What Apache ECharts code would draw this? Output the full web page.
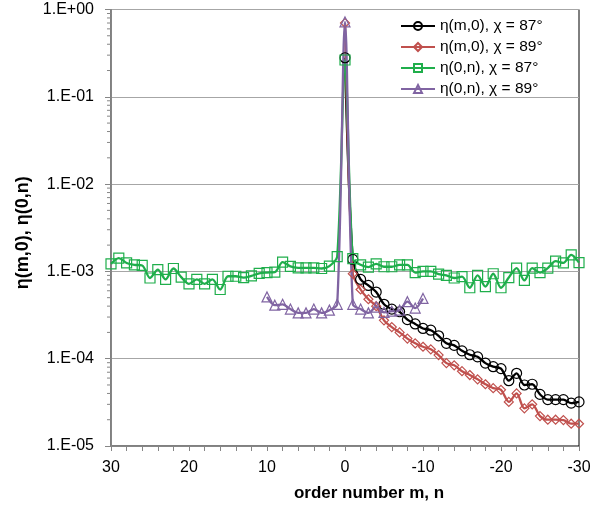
<!DOCTYPE html>
<html><head><meta charset="utf-8">
<script src="https://cdn.jsdelivr.net/npm/echarts@6/dist/echarts.min.js"></script>
<style>html,body{margin:0;padding:0;background:#fff}#c{width:611px;height:509px}</style>
</head><body><div id="c"></div>
<script>
// ---- data ----
const orders_m = [0,-1,-2,-3,-4,-5,-6,-7,-8,-9,-10,-11,-12,-13,-14,-15,-16,-17,-18,-19,-20,-21,-22,-23,-24,-25,-26,-27,-28,-29,-30];
const eta_m0_87 = [0.28,1.37e-3,8.1e-4,6.9e-4,5.8e-4,4.2e-4,3.7e-4,3.45e-4,2.8e-4,2.5e-4,2.22e-4,2.12e-4,1.83e-4,1.5e-4,1.42e-4,1.23e-4,1.11e-4,1.05e-4,8.9e-5,8.1e-5,7.7e-5,5.6e-5,6.8e-5,5.0e-5,5.1e-5,3.9e-5,3.4e-5,3.4e-5,3.4e-5,3.1e-5,3.2e-5];
const eta_m0_89 = [0.70,9.4e-4,6.2e-4,4.8e-4,4.0e-4,2.75e-4,2.3e-4,2.0e-4,1.7e-4,1.5e-4,1.37e-4,1.28e-4,1.1e-4,8.9e-5,8.4e-5,7.2e-5,6.5e-5,5.8e-5,5.1e-5,4.6e-5,4.4e-5,3.2e-5,4.0e-5,2.7e-5,3.0e-5,2.2e-5,2.0e-5,2.0e-5,1.98e-5,1.8e-5,1.8e-5];
const orders_n87 = [30,29,28,27,26,25,24,23,22,21,20,19,18,17,16,15,14,13,12,11,10,9,8,7,6,5,4,3,2,1,0,-1,-2,-3,-4,-5,-6,-7,-8,-9,-10,-11,-12,-13,-14,-15,-16,-17,-18,-19,-20,-21,-22,-23,-24,-25,-26,-27,-28,-29,-30];
const eta_0n_87 = [1.22e-3,1.42e-3,1.25e-3,1.19e-3,1.17e-3,8.4e-4,1.05e-3,8.1e-4,1.08e-3,8.6e-4,7.2e-4,8.1e-4,7.2e-4,8.1e-4,6.2e-4,8.8e-4,8.8e-4,8.5e-4,8.9e-4,9.5e-4,9.7e-4,9.8e-4,1.28e-3,1.14e-3,1.1e-3,1.1e-3,1.1e-3,1.08e-3,1.15e-3,1.48e-3,0.264,1.40e-3,1.19e-3,1.12e-3,1.22e-3,1.13e-3,1.13e-3,1.19e-3,1.19e-3,9.7e-4,1.0e-3,1.0e-3,9.3e-4,9.0e-4,8.4e-4,8.7e-4,6.5e-4,9.0e-4,6.7e-4,9.4e-4,6.5e-4,8.5e-4,1.09e-3,7.9e-4,1.09e-3,9.7e-4,1.09e-3,1.31e-3,1.25e-3,1.55e-3,1.26e-3];
const orders_n89 = [10,9,8,7,6,5,4,3,2,1,0,-1,-2,-3,-4,-5,-6,-7,-8,-9,-10];
const eta_0n_89 = [5.1e-4,4.1e-4,4.2e-4,3.7e-4,3.35e-4,3.35e-4,3.7e-4,3.35e-4,3.6e-4,4.2e-4,0.72,4.2e-4,3.7e-4,3.35e-4,3.9e-4,3.4e-4,3.5e-4,3.6e-4,4.5e-4,3.8e-4,4.9e-4];
const seriesNames = ['η(m,0), χ = 87°','η(m,0), χ = 89°','η(0,n), χ = 87°','η(0,n), χ = 89°'];
const xTickLabels = [30,20,10,0,-10,-20,-30];
const yMin = 1e-5, yMax = 1;
// ---- end data ----

const pair = (xs, ys) => xs.map((x, i) => [x, ys[i]]);
const minorTicks = [];
for (let e = -5; e < 0; e++) for (let k = 2; k <= 9; k++) minorTicks.push([30, k * Math.pow(10, e)]);

const FONT = 'Liberation Sans';
const mk = (name, data, color, symbol, size) => ({
  name, type: 'line', data, smooth: 0.3, symbol, symbolSize: size,
  showAllSymbol: true,
  lineStyle: { color, width: 2.3 },
  itemStyle: { color: 'rgba(255,255,255,0)', borderColor: color, borderWidth: 1.2 },
  emphasis: { disabled: true }
});

const chart = echarts.init(document.getElementById('c'), null, { renderer: 'canvas' });
chart.setOption({
  animation: false,
  backgroundColor: '#fff',
  textStyle: { fontFamily: FONT },
  grid: { left: 111, right: 32, top: 9.5, bottom: 63, show: true, borderColor: '#000', borderWidth: 1 },
  legend: {
    data: seriesNames, orient: 'vertical', left: 395, top: 13,
    itemWidth: 34, itemHeight: 10, itemGap: 5,
    textStyle: { fontFamily: FONT, fontSize: 15.5, color: '#000' }
  },
  xAxis: {
    type: 'value', min: -30, max: 30, interval: 2, inverse: true,
    axisLine: { show: true, onZero: false, lineStyle: { color: '#868686', width: 1 } },
    axisTick: { show: true, length: 5, lineStyle: { color: '#868686' } },
    splitLine: { show: false },
    axisLabel: { margin: 14, fontSize: 16, color: '#000', fontFamily: FONT,
      formatter: v => (xTickLabels.indexOf(v) >= 0 ? String(v) : '') },
    name: 'order number m, n', nameLocation: 'middle', nameGap: 39,
    nameTextStyle: { fontSize: 17, fontWeight: 'bold', color: '#000', fontFamily: FONT, padding: [0, 0, 0, 48] }
  },
  yAxis: {
    type: 'log', logBase: 10, min: yMin, max: yMax,
    axisLine: { show: true, onZero: false, lineStyle: { color: '#868686', width: 1 } },
    axisTick: { show: true, length: 6, lineStyle: { color: '#868686' } },
    splitLine: { show: true, lineStyle: { color: '#a6a6a6', width: 1 } },
    axisLabel: { margin: 17, fontSize: 16, color: '#000', fontFamily: FONT,
      formatter: v => { const e = Math.round(Math.log10(v)); return '1.E' + (e >= 0 ? '+' : '-') + String(Math.abs(e)).padStart(2, '0'); } },
    name: 'η(m,0), η(0,n)', nameLocation: 'middle', nameGap: 79,
    nameTextStyle: { fontSize: 18, fontWeight: 'bold', color: '#000', fontFamily: FONT, padding: [0, 10, 0, 0] }
  },
  series: [
    mk(seriesNames[0], pair(orders_m, eta_m0_87), '#000000', 'circle', 10),
    mk(seriesNames[1], pair(orders_m, eta_m0_89), '#c0504d', 'diamond', 9),
    mk(seriesNames[2], pair(orders_n87, eta_0n_87), '#1fae4b', 'rect', 10),
    mk(seriesNames[3], pair(orders_n89, eta_0n_89), '#8064a2', 'triangle', 10),
    {
      type: 'custom', silent: true, clip: false, data: minorTicks,
      renderItem: (params, api) => {
        const p = api.coord([api.value(0), api.value(1)]);
        return { type: 'line', shape: { x1: p[0] - 4, y1: p[1], x2: p[0], y2: p[1] },
          style: { stroke: '#868686', lineWidth: 1 } };
      }
    }
  ]
});
</script>
</body></html>
